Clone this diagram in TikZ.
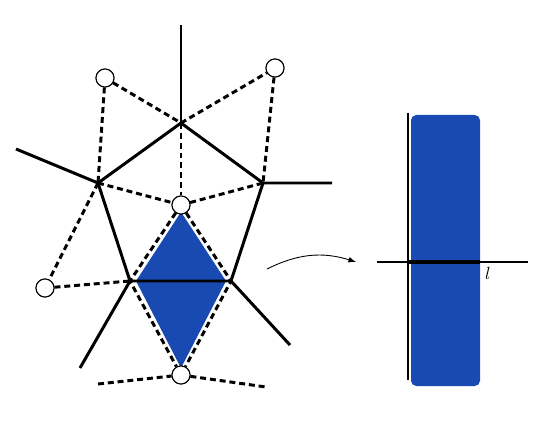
\documentclass[tikz,border=0pt]{standalone}
\usepackage{xcolor}
\usetikzlibrary{arrows}
\definecolor{myblue}{RGB}{24,74,178}

\begin{document}
\begin{tikzpicture}[x=0.02cm,y=-0.02cm,
  edge/.style={line width=1.7pt},
  dual/.style={line width=1.7pt,dash pattern=on 3.4pt off 2.2pt},
  site/.style={circle,draw,fill=white,line width=0.6pt,minimum size=0.36cm,inner sep=0pt}]
\useasboundingbox (0,0) rectangle (536,425);

%voronoi vertices
\coordinate (T) at (181,123);
\coordinate (L) at (98,183);
\coordinate (R) at (263,183);
\coordinate (BL) at (130,281);
\coordinate (BR) at (231,281);
\coordinate (t1) at (181,25);
\coordinate (l1) at (16,149);
\coordinate (r1) at (332,183);
\coordinate (bl1) at (80,368);
\coordinate (br1) at (290,345);
\coordinate (d1) at (98,384);
\coordinate (d2) at (266,387);

%blue cell
\fill[myblue] (181,212) -- (136,281) -- (181,368) -- (226,281) -- cycle;

%sites
\node[site] (s1) at (105,78) {};
\node[site] (s2) at (275,68) {};
\node[site] (s3) at (181,205) {};
\node[site] (s4) at (45,288) {};
\node[site] (s5) at (181,375) {};

%dual edges
\draw[dual] (s1) -- (T) -- (s2);
\draw[dual] (s1) -- (L);
\draw[dual] (s2) -- (R);
\draw[dual] (T) -- (s3);
\draw[dual] (L) -- (s3) -- (R);
\draw[dual] (L) -- (s4) -- (BL);
\draw[dual] (s3) -- (BL) -- (s5);
\draw[dual] (s3) -- (BR) -- (s5);
\draw[dual] (d1) -- (s5) -- (d2);

%edges
\draw[edge] (t1) -- (T);
\draw[edge] (l1) -- (L) -- (T) -- (R) -- (r1);
\draw[edge] (L) -- (BL) -- (BR) -- (R);
\draw[edge] (BL) -- (bl1);
\draw[edge] (BR) -- (br1);

%redraw sites on top
\foreach \s in {s1,s2,s3,s4,s5}
  \node[site] at (\s) {};

%arrow
\coordinate (a1) at (267,269);
\coordinate (a2) at (356,262);
\draw[-latex,line width=0.5pt] (a1) to[bend left=22] (a2);

%strip
\fill[myblue,rounded corners=3pt] (411,115) rectangle (480,386);
\draw[line width=0.6pt] (408,113) -- (408,380);
\draw[line width=0.6pt] (377,262) -- (528,262);
\draw[line width=1.8pt] (408,262) -- (480,262);
\node (lab) at (488,273) {$l$};
\end{tikzpicture}
\end{document}
